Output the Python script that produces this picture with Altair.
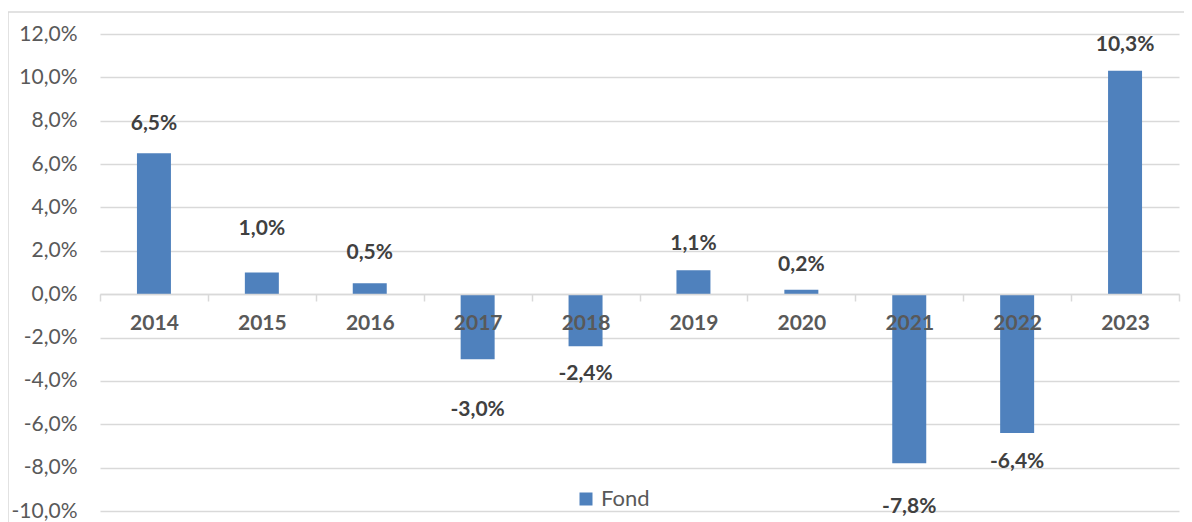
import altair as alt
import pandas as pd

years = ["2014", "2015", "2016", "2017", "2018", "2019", "2020", "2021", "2022", "2023"]
returns = [6.5, 1.0, 0.5, -3.0, -2.4, 1.1, 0.2, -7.8, -6.4, 10.3]
series_name = "Fond"
y_ticks = [-10, -8, -6, -4, -2, 0, 2, 4, 6, 8, 10, 12]
# pixel shift of each data label from its bar end (manually placed labels)
label_offset_px = [-29, -44, -30, 51, 28, -26, -25, 44, 29, -26]

df = pd.DataFrame({
    "year": years,
    "value": returns,
    "series": [series_name] * len(years),
    "off": label_offset_px,
})

W, H = 1079, 477
Y_MIN, Y_MAX = -10, 12
PX_PER_UNIT = H / (Y_MAX - Y_MIN)
FONT = "Lato"
GRAY = "#d9d9d9"
TXT = "#595959"

x_enc = alt.X(
    "year:N",
    sort=years,
    title=None,
    scale=alt.Scale(paddingInner=0, paddingOuter=0),
    axis=alt.Axis(
        orient="bottom",
        offset=-217,
        zindex=1,
        labelAngle=0,
        labelFont=FONT,
        labelFontSize=21,
        labelFontWeight="bold",
        labelColor=TXT,
        labelPadding=11,
        tickBand="extent",
        tickSize=7,
        tickColor=GRAY,
        tickWidth=1.5,
        domainColor=GRAY,
        domainWidth=1.5,
        grid=False,
    ),
)

y_enc = alt.Y(
    "value:Q",
    title=None,
    scale=alt.Scale(domain=[Y_MIN, Y_MAX], nice=False, zero=False),
    axis=alt.Axis(
        values=y_ticks,
        zindex=0,
        domain=False,
        ticks=False,
        grid=True,
        gridColor=GRAY,
        gridWidth=1.5,
        labelFont=FONT,
        labelFontSize=21,
        labelColor=TXT,
        labelPadding=23,
        labelExpr="(datum.value < 0 ? '-' : '') + replace(format(abs(datum.value), '.1f'), '.', ',') + '%'",
    ),
)

base = alt.Chart(df)

bars = base.mark_bar(width=alt.RelativeBandSize(0.315)).encode(
    x=x_enc,
    y=y_enc,
    color=alt.Color(
        "series:N",
        scale=alt.Scale(domain=[series_name], range=["#4f81bd"]),
        legend=alt.Legend(
            title=None,
            orient="none",
            legendX=475,
            legendY=454,
            symbolType="square",
            symbolSize=169,
            symbolStrokeWidth=0,
            labelFont=FONT,
            labelFontSize=22,
            labelColor=TXT,
            labelOffset=4,
            padding=0,
        ),
    ),
)

labels = base.transform_calculate(
    label="(datum.value < 0 ? '-' : '') + replace(format(abs(datum.value), '.1f'), '.', ',') + '%'",
    label_y=f"datum.value - datum.off / {PX_PER_UNIT}",
).mark_text(
    font=FONT, fontSize=21, fontWeight="bold", color="#404040", baseline="middle"
).encode(
    x=alt.X("year:N", sort=years),
    y=alt.Y("label_y:Q"),
    text="label:N",
)

one = alt.Chart(pd.DataFrame({"a": [0]}))
frame_top = one.mark_rule(color=GRAY, strokeWidth=1.5).encode(
    x=alt.value(-92), x2=alt.value(1300), y=alt.value(-22)
)
frame_left = one.mark_rule(color=GRAY, strokeWidth=1.5).encode(
    x=alt.value(-92), y=alt.value(-22), y2=alt.value(700)
)

chart = alt.layer(frame_top, frame_left, bars, labels).properties(
    width=W,
    height=H,
    padding={"left": 92, "top": 26, "right": 5, "bottom": 11},
    autosize=alt.AutoSizeParams(type="none"),
).configure_view(strokeWidth=0)

chart.save("out.html", embed_options={"renderer": "svg", "actions": False})
